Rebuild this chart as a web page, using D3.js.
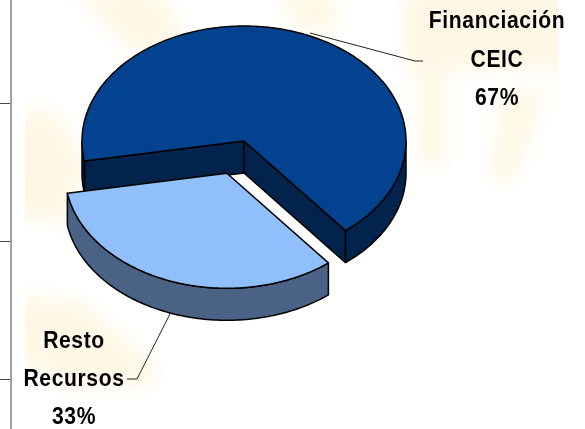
<!DOCTYPE html>
<html><head><meta charset="utf-8">
<script src="https://cdn.jsdelivr.net/npm/d3@7/dist/d3.min.js"></script>
<style>html,body{margin:0;padding:0;background:#fff;overflow:hidden}svg{display:block}</style>
</head><body><svg id="c" width="585" height="429"></svg>
<script>
const categories = ["Financiación CEIC", "Resto Recursos"];
const values = [67, 33];
const percentLabels = ["67%", "33%"];
const labelLines = [["Financiación", "CEIC", "67%"], ["Resto", "Recursos", "33%"]];
const explode = [0, 0.3];
const topColors = ["#03428f", "#91bffc"];
const wallColors = ["#02234c", "#4a6285"];

const svg = d3.select("#c");
const W = 585, H = 429;
const cx = 244, cy = 141, rx = 162, ry = 115, depth = 32;
const x = d3.scaleLinear().domain([-1, 1]).range([cx - rx, cx + rx]);
const y = d3.scaleLinear().domain([-1, 1]).range([cy + ry, cy - ry]);

// background watermark
const defs = svg.append("defs");
defs.append("filter").attr("id", "blur").attr("x", "-30%").attr("y", "-30%").attr("width", "160%").attr("height", "160%")
  .append("feGaussianBlur").attr("stdDeviation", 9);
defs.append("clipPath").attr("id", "wm").append("rect").attr("x", 25).attr("y", 0).attr("width", 533).attr("height", 429);
const wm = svg.append("g").attr("clip-path", "url(#wm)").append("g").attr("filter", "url(#blur)");
const rays = [
  "M75,-10L160,-10L190,50L130,50Z",
  "M275,-10L330,-10L340,30L300,30Z",
  "M405,-10L575,-10L575,70L405,70Z",
  "M418,70L445,70L445,165L420,165Z",
  "M505,90L545,90L515,180L490,180Z",
  "M10,115L55,110L90,170L80,190L10,190Z",
  "M10,185L70,190L75,225L10,215Z",
  "M10,295L80,300L155,365L155,385L60,385L10,350Z"
];
wm.selectAll("path").data(rays).join("path").attr("d", d => d).attr("fill", "#fdf0cc").attr("opacity", 0.5);

// frame fragments at the left edge
svg.append("line").attr("x1", 11).attr("x2", 11).attr("y1", 0).attr("y2", H).attr("stroke", "#a0a0a0").attr("stroke-width", 2);
svg.selectAll("line.t").data([103, 241, 379]).join("line").attr("class", "t")
  .attr("x1", 0).attr("x2", 10).attr("y1", d => d + .5).attr("y2", d => d + .5).attr("stroke", "#444");

// pie
const arcs = d3.pie().sort(null).value(d => d).startAngle(-100 * Math.PI / 180).endAngle(260 * Math.PI / 180)(values);
const line = d3.line();
const pt = (a, ox, oy, dz = 0) => [x(Math.sin(a)) - cx + ox, y(Math.cos(a)) - cy + oy + dz];
const samples = (a0, a1, ox, oy, dz) => {
  const n = Math.max(2, Math.ceil(Math.abs(a1 - a0) / 0.02));
  return d3.range(n + 1).map(i => pt(a0 + (a1 - a0) * i / n, ox, oy, dz));
};
const clampRanges = (a0, a1) => {
  const out = [];
  for (let k = -1; k <= 1; k++) {
    const s = Math.PI / 2 + k * 2 * Math.PI, e = 3 * Math.PI / 2 + k * 2 * Math.PI;
    const p = Math.max(a0, s), q = Math.min(a1, e);
    if (q > p) out.push([p, q]);
  }
  return out;
};
const pieG = svg.append("g").attr("stroke", "#000").attr("stroke-width", 1.5).attr("stroke-linejoin", "round");
[0, 1].forEach(i => {
  const d = arcs[i];
  const mid = (d.startAngle + d.endAngle) / 2;
  const ox = cx + explode[i] * rx * Math.sin(mid);
  const oy = cy - explode[i] * ry * Math.cos(mid);
  const g = pieG.append("g");
  if (explode[i] === 0) {
    [d.startAngle, d.endAngle].forEach(a => {
      const p = pt(a, ox, oy);
      const wall = [[ox, oy], p, [p[0], p[1] + depth], [ox, oy + depth]];
      g.append("path").attr("d", line(wall) + "Z").attr("fill", wallColors[i]);
    });
  }
  clampRanges(d.startAngle, d.endAngle).forEach(([a0, a1]) => {
    const poly = samples(a0, a1, ox, oy, 0).concat(samples(a1, a0, ox, oy, depth));
    g.append("path").attr("d", line(poly) + "Z").attr("fill", wallColors[i]);
  });
  const top = [[ox, oy]].concat(samples(d.startAngle, d.endAngle, ox, oy, 0));
  g.append("path").attr("d", line(top) + "Z").attr("fill", topColors[i]);
});

// leaders
const leaders = [[[310, 33], [415, 61], [423, 61]], [[171, 312], [137, 379], [127, 379]]];
svg.selectAll("path.l").data(leaders).join("path").attr("class", "l").attr("d", d => line(d))
  .attr("fill", "none").attr("stroke", "#222").attr("stroke-width", 1);

// labels
const labelX = [497, 74];
const labelY = [28, 347.5];
const labelStep = [38.7, 38];
labelLines.forEach((lines, i) => {
  lines.forEach((t, j) => {
    svg.append("text")
      .attr("transform", `translate(${labelX[i]},${labelY[i] + j * labelStep[i]}) scale(0.88,1)`)
      .attr("text-anchor", "middle")
      .attr("font-family", "'Liberation Sans',Arial,sans-serif")
      .attr("font-weight", 700).attr("font-size", 24).attr("letter-spacing", 0.7)
      .attr("fill", "#000").text(t);
  });
});
</script></body></html>
